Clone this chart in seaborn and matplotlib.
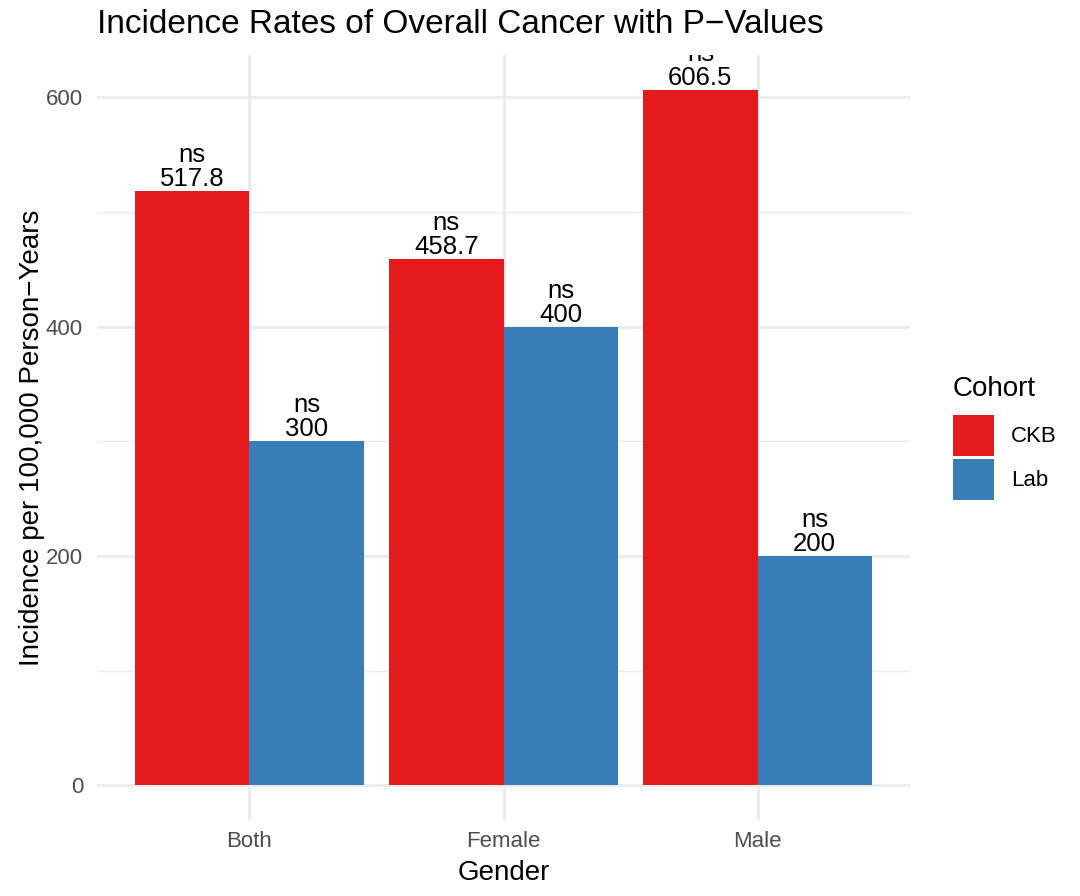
import pandas as pd
import seaborn as sns
from matplotlib import pyplot as plt

# data
genders = ["Both", "Female", "Male"]
cohorts = ["CKB", "Lab"]
ckb_rate = [517.8, 458.7, 606.5]
lab_rate = [300, 400, 200]
ckb_sig = ["ns", "ns", "ns"]
lab_sig = ["ns", "ns", "ns"]
y_ticks = [0, 200, 400, 600]
y_minor = [100, 300, 500]

df = pd.DataFrame({
    "Gender": genders * 2,
    "Cohort": ["CKB"] * 3 + ["Lab"] * 3,
    "Rate": ckb_rate + lab_rate,
})

sns.set_style("white")
plt.rcParams['font.family'] = ['Liberation Sans', 'DejaVu Sans']
plt.rcParams['text.color'] = 'black'
plt.rcParams['axes.labelcolor'] = 'black'

fig = plt.figure(figsize=(10.8, 8.96), dpi=100)
ax = fig.add_axes([97 / 1080, 1 - 820 / 896, 813 / 1080, 765 / 896])

grid_col = "#EBEBEB"
ax.set_axisbelow(True)
for t in y_ticks:
    ax.axhline(t, color=grid_col, lw=2.0, zorder=0)
for t in y_minor:
    ax.axhline(t, color=grid_col, lw=1.0, zorder=0)
for i in range(len(genders)):
    ax.axvline(i, color=grid_col, lw=2.0, zorder=0)

sns.barplot(data=df, x="Gender", y="Rate", hue="Cohort", order=genders,
            hue_order=cohorts, palette={"CKB": "#E41A1C", "Lab": "#377EB8"},
            saturation=1, width=0.9, gap=0, linewidth=0, ax=ax, zorder=2)

# labels: significance + value above each bar
sig = {"CKB": ckb_sig, "Lab": lab_sig}
vals = {"CKB": ckb_rate, "Lab": lab_rate}
for cont, c in zip(ax.containers, cohorts):
    labs = [f"{s}\n{v:g}" for s, v in zip(sig[c], vals[c])]
    ax.bar_label(cont, labels=labs, padding=0, fontsize=18.5, linespacing=1.0,
                 color="black", clip_on=True)

ax.set_xlim(-0.6, 2.6)
ax.set_ylim(-30.3, 636.8)
ax.set_yticks(y_ticks)
for s in ax.spines.values():
    s.set_visible(False)
ax.tick_params(axis="both", length=0, labelsize=16, labelcolor="#4D4D4D")
ax.tick_params(axis="x", pad=8)
ax.tick_params(axis="y", pad=10)

ax.set_xlabel("Gender", fontsize=20, labelpad=6)
ax.set_ylabel("Incidence per 100,000 Person\u2212Years", fontsize=20, labelpad=1)
ax.set_title("Incidence Rates of Overall Cancer with P\u2212Values", loc="left",
             fontsize=24, pad=16)

handles, _ = ax.get_legend_handles_labels()
leg = ax.legend(handles, cohorts, title="Cohort", loc="upper left",
                bbox_to_anchor=(953 / 1080, 1 - 376 / 896),
                bbox_transform=fig.transFigure, frameon=False, fontsize=16,
                title_fontsize=20, alignment="left", borderpad=0,
                borderaxespad=0, handlelength=1.85, handleheight=2.46,
                labelspacing=0.135, handletextpad=0.77)
leg._legend_box.sep = 9.5

fig.savefig("out.png", dpi=100)
